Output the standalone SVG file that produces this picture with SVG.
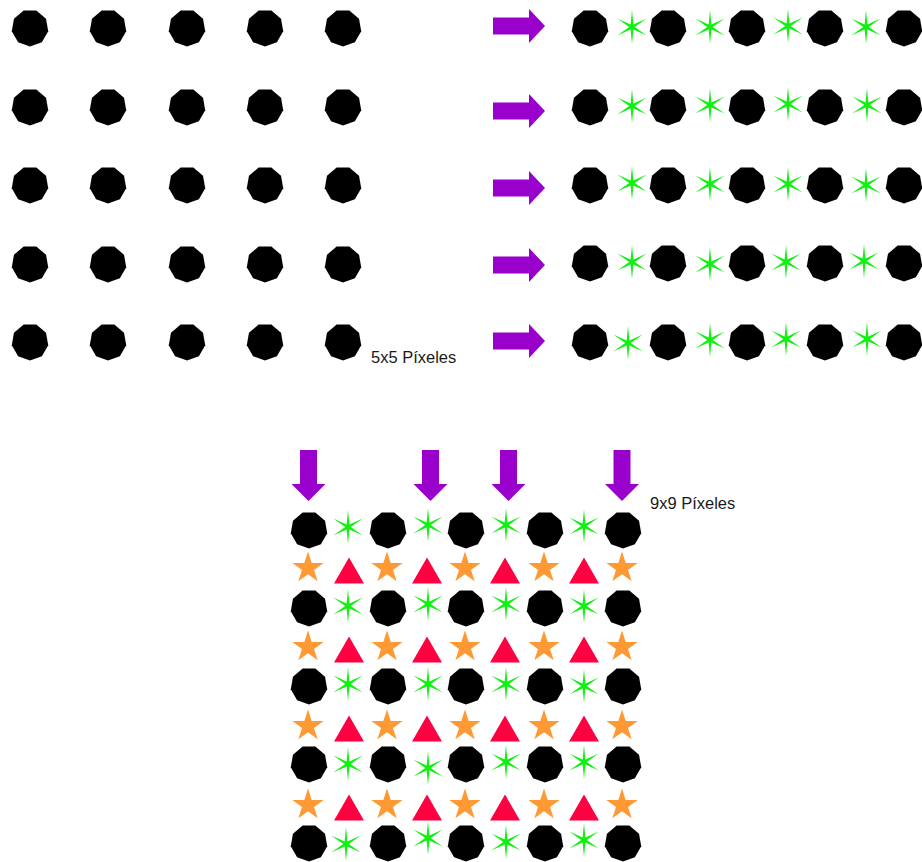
<svg xmlns="http://www.w3.org/2000/svg" xmlns:xlink="http://www.w3.org/1999/xlink" width="922" height="862" viewBox="0 0 922 862">
<style>
.non{fill:#000}
.gs{fill:#11f011}
.os{fill:#ff9933}
.tri{fill:#ff0040}
.arr{fill:#9900cc}
.lbl{font-family:"Liberation Sans",Arial,sans-serif;font-size:16.5px;fill:#1a1a1a}
</style>
<defs>
<path id="non" d="M0,18.5 L-11.89,14.17 L-18.22,3.21 L-16.02,-9.25 L-6.33,-17.38 L6.33,-17.38 L16.02,-9.25 L18.22,3.21 L11.89,14.17 Z"/>
<path id="gst" d="M0,-17 L1.4,-2.42 L14.72,-8.5 L2.8,0 L14.72,8.5 L1.4,2.42 L0,17 L-1.4,2.42 L-14.72,8.5 L-2.8,0 L-14.72,-8.5 L-1.4,-2.42 Z"/>
<path id="ost" d="M0,-16.5 L3.7,-5.1 L15.69,-5.1 L5.99,1.95 L9.7,13.35 L0,6.3 L-9.7,13.35 L-5.99,1.95 L-15.69,-5.1 L-3.7,-5.1 Z"/>
<path id="tri" d="M0,-11.5 L15,14.5 L-15,14.5 Z"/>
<path id="rarr" d="M-26,-8.5 H10 V-17 L26,0 L10,17 V8.5 H-26 Z"/>
<path id="darr" d="M-8.5,0 V34 H-17 L0,51 L17,34 H8.5 V0 Z"/>
</defs>

<g id="grid5x5" class="non">
<use href="#non" x="30" y="28"/><use href="#non" x="108" y="28"/><use href="#non" x="187" y="28"/><use href="#non" x="265" y="28"/><use href="#non" x="343" y="28"/>
<use href="#non" x="30" y="107"/><use href="#non" x="108" y="107"/><use href="#non" x="187" y="107"/><use href="#non" x="265" y="107"/><use href="#non" x="343" y="107"/>
<use href="#non" x="30" y="185"/><use href="#non" x="108" y="185"/><use href="#non" x="187" y="185"/><use href="#non" x="265" y="185"/><use href="#non" x="343" y="185"/>
<use href="#non" x="30" y="264"/><use href="#non" x="108" y="264"/><use href="#non" x="187" y="264"/><use href="#non" x="265" y="264"/><use href="#non" x="343" y="264"/>
<use href="#non" x="30" y="342"/><use href="#non" x="108" y="342"/><use href="#non" x="187" y="342"/><use href="#non" x="265" y="342"/><use href="#non" x="343" y="342"/>
</g>
<text id="label5x5" class="lbl" x="371" y="363">5x5 Píxeles</text>

<g id="grid5x9">
<g class="non">
<use href="#non" x="590" y="28"/><use href="#non" x="668" y="28"/><use href="#non" x="747" y="28"/><use href="#non" x="825" y="28"/><use href="#non" x="904" y="28"/>
<use href="#non" x="590" y="107"/><use href="#non" x="668" y="107"/><use href="#non" x="747" y="107"/><use href="#non" x="825" y="107"/><use href="#non" x="904" y="107"/>
<use href="#non" x="590" y="185"/><use href="#non" x="668" y="185"/><use href="#non" x="747" y="185"/><use href="#non" x="825" y="185"/><use href="#non" x="904" y="185"/>
<use href="#non" x="590" y="263"/><use href="#non" x="668" y="263"/><use href="#non" x="747" y="263"/><use href="#non" x="825" y="263"/><use href="#non" x="904" y="263"/>
<use href="#non" x="590" y="342"/><use href="#non" x="668" y="342"/><use href="#non" x="747" y="342"/><use href="#non" x="825" y="342"/><use href="#non" x="904" y="342"/>
</g>
<g class="gs">
<use href="#gst" x="632" y="27"/><use href="#gst" x="710" y="27"/><use href="#gst" x="788" y="26"/><use href="#gst" x="866" y="27"/>
<use href="#gst" x="632" y="106"/><use href="#gst" x="710" y="105"/><use href="#gst" x="788" y="104"/><use href="#gst" x="867" y="105"/>
<use href="#gst" x="632" y="183"/><use href="#gst" x="710" y="184"/><use href="#gst" x="788" y="184"/><use href="#gst" x="866" y="185"/>
<use href="#gst" x="632" y="262"/><use href="#gst" x="710" y="264"/><use href="#gst" x="786" y="262"/><use href="#gst" x="864" y="261"/>
<use href="#gst" x="628" y="343"/><use href="#gst" x="710" y="340"/><use href="#gst" x="786" y="339"/><use href="#gst" x="867" y="339"/>
</g>
</g>

<g id="grid9x9">
<g class="non">
<use href="#non" x="309" y="530"/><use href="#non" x="388" y="530"/><use href="#non" x="466" y="530"/><use href="#non" x="545" y="530"/><use href="#non" x="623" y="530"/>
<use href="#non" x="309" y="608"/><use href="#non" x="388" y="608"/><use href="#non" x="466" y="608"/><use href="#non" x="545" y="608"/><use href="#non" x="623" y="608"/>
<use href="#non" x="309" y="686"/><use href="#non" x="388" y="686"/><use href="#non" x="466" y="686"/><use href="#non" x="545" y="686"/><use href="#non" x="623" y="686"/>
<use href="#non" x="309" y="764"/><use href="#non" x="388" y="764"/><use href="#non" x="466" y="764"/><use href="#non" x="545" y="764"/><use href="#non" x="623" y="764"/>
<use href="#non" x="309" y="843"/><use href="#non" x="388" y="843"/><use href="#non" x="466" y="843"/><use href="#non" x="545" y="843"/><use href="#non" x="623" y="843"/>
</g>
<g class="gs">
<use href="#gst" x="348" y="527"/><use href="#gst" x="428" y="525"/><use href="#gst" x="506" y="525"/><use href="#gst" x="584" y="526"/>
<use href="#gst" x="348" y="606"/><use href="#gst" x="428" y="604"/><use href="#gst" x="506" y="604"/><use href="#gst" x="584" y="606"/>
<use href="#gst" x="348" y="684"/><use href="#gst" x="428" y="684"/><use href="#gst" x="506" y="684"/><use href="#gst" x="584" y="686"/>
<use href="#gst" x="348" y="764"/><use href="#gst" x="428" y="768"/><use href="#gst" x="506" y="762"/><use href="#gst" x="584" y="762"/>
<use href="#gst" x="346" y="844"/><use href="#gst" x="428" y="838"/><use href="#gst" x="506" y="842"/><use href="#gst" x="584" y="840"/>
</g>
<g class="os">
<use href="#ost" x="308" y="568"/><use href="#ost" x="387" y="568"/><use href="#ost" x="465" y="568"/><use href="#ost" x="544" y="568"/><use href="#ost" x="622" y="568"/>
<use href="#ost" x="308" y="647"/><use href="#ost" x="387" y="647"/><use href="#ost" x="465" y="647"/><use href="#ost" x="544" y="647"/><use href="#ost" x="622" y="647"/>
<use href="#ost" x="308" y="726"/><use href="#ost" x="387" y="726"/><use href="#ost" x="465" y="726"/><use href="#ost" x="544" y="726"/><use href="#ost" x="622" y="726"/>
<use href="#ost" x="308" y="805"/><use href="#ost" x="387" y="805"/><use href="#ost" x="465" y="805"/><use href="#ost" x="544" y="805"/><use href="#ost" x="622" y="805"/>
</g>
<g class="tri">
<use href="#tri" x="349" y="569"/><use href="#tri" x="427" y="569"/><use href="#tri" x="505" y="569"/><use href="#tri" x="584" y="569"/>
<use href="#tri" x="349" y="648"/><use href="#tri" x="427" y="648"/><use href="#tri" x="505" y="648"/><use href="#tri" x="584" y="648"/>
<use href="#tri" x="349" y="727"/><use href="#tri" x="427" y="727"/><use href="#tri" x="505" y="727"/><use href="#tri" x="584" y="727"/>
<use href="#tri" x="349" y="806"/><use href="#tri" x="427" y="806"/><use href="#tri" x="505" y="806"/><use href="#tri" x="584" y="806"/>
</g>
</g>
<text id="label9x9" class="lbl" x="650" y="509">9x9 Píxeles</text>

<g id="connectors" class="arr">
<use href="#rarr" x="519" y="26"/>
<use href="#rarr" x="519" y="111"/>
<use href="#rarr" x="519" y="188"/>
<use href="#rarr" x="519" y="265"/>
<use href="#rarr" x="519" y="341"/>
<use href="#darr" x="308.5" y="450"/>
<use href="#darr" x="430.5" y="450"/>
<use href="#darr" x="508.5" y="450"/>
<use href="#darr" x="622" y="450"/>
</g>
</svg>
